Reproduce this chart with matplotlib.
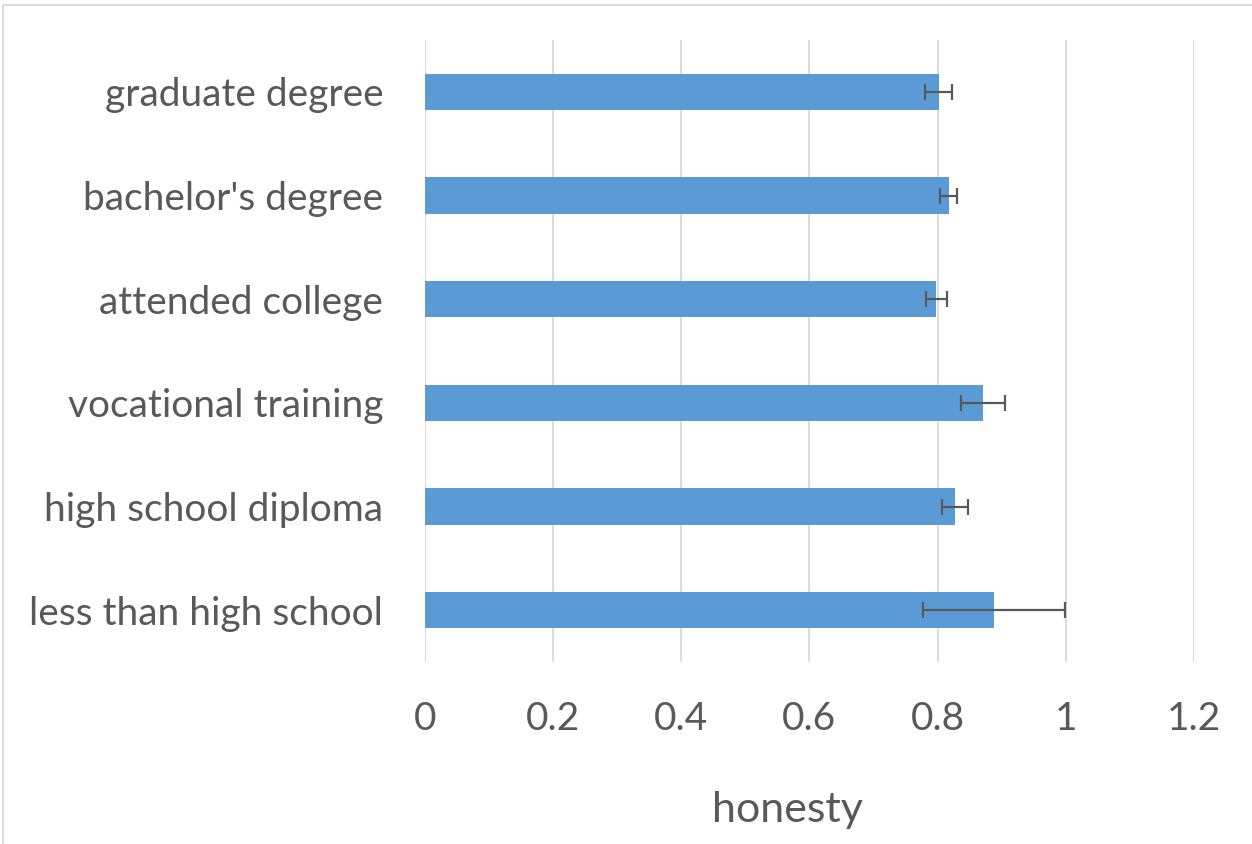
import matplotlib
matplotlib.use("Agg")
import matplotlib.pyplot as plt
from matplotlib.patches import Rectangle

categories = ["less than high school", "high school diploma", "vocational training",
              "attended college", "bachelor's degree", "graduate degree"]
values = [0.888, 0.827, 0.871, 0.798, 0.817, 0.802]
errors = [0.111, 0.021, 0.034, 0.016, 0.013, 0.021]
xticks = [0, 0.2, 0.4, 0.6, 0.8, 1.0, 1.2]
xtick_labels = ["0", "0.2", "0.4", "0.6", "0.8", "1", "1.2"]

plt.rcParams['font.family'] = ['Lato', 'DejaVu Sans']
text_color = "#595959"

fig = plt.figure(figsize=(12.52, 8.44), dpi=100)
ax = fig.add_axes([425/1252, 1-662/844, (1194-425)/1252, (662-40)/844])

y = list(range(len(categories)))
ax.barh(y, values, height=0.35, color="#5B9BD5", zorder=2)
ax.errorbar(values, y, xerr=errors, fmt="none", ecolor="#595959",
            elinewidth=1.6, capsize=6, capthick=1.6, zorder=3)

ax.set_xlim(0, 1.2)
ax.set_ylim(-0.5, 5.5)
ax.set_xticks(xticks)
ax.set_xticklabels(xtick_labels)
ax.set_yticks(y)
ax.set_yticklabels(categories)
ax.xaxis.grid(True, color="#D9D9D9", linewidth=1.3, zorder=0)
ax.set_axisbelow(True)
for s in ax.spines.values():
    s.set_visible(False)
ax.tick_params(axis="both", length=0, labelsize=28, colors=text_color)
ax.tick_params(axis="y", pad=30)
ax.tick_params(axis="x", pad=28)
ax.set_xlabel("honesty", fontsize=31, color=text_color)
ax.xaxis.set_label_coords((787 - 425) / 769, -(791 - 662) / 622, transform=ax.transAxes)

fig.patches.append(Rectangle((3/1252, -0.01), 1.1, 1-5/844+0.01, transform=fig.transFigure,
                             fill=False, edgecolor="#D9D9D9", linewidth=1.3))

fig.savefig("out.png", dpi=100)
